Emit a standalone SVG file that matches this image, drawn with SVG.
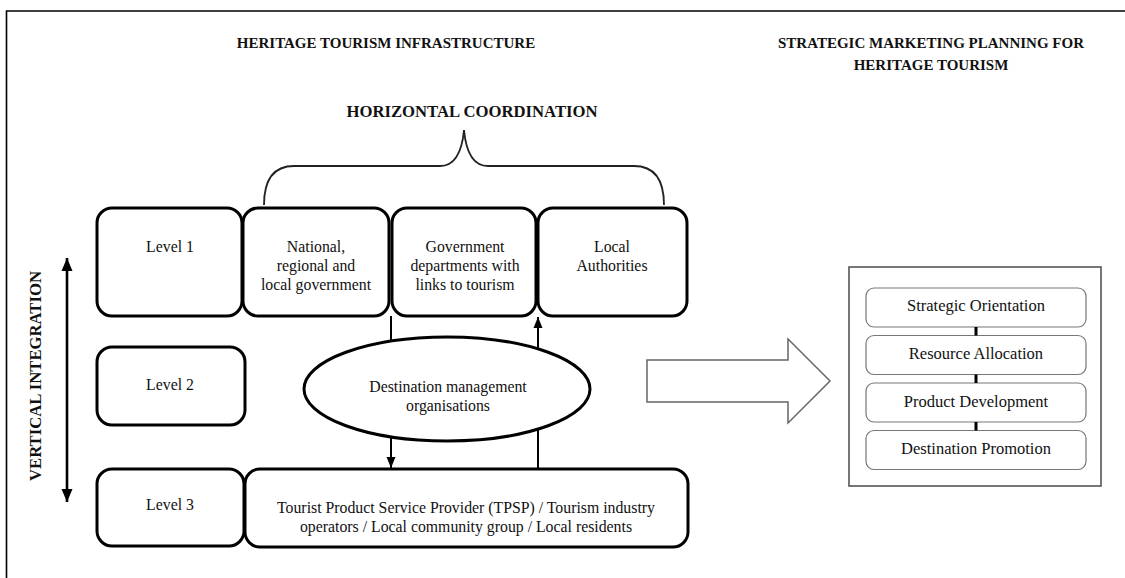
<svg xmlns="http://www.w3.org/2000/svg" width="1125" height="578" viewBox="0 0 1125 578">
<defs>
<style>
.t{font-family:"Liberation Serif","Times New Roman",serif;fill:#111;}
.r{font-size:15.8px;}
.rs{font-size:16.5px;}
.b{font-weight:bold;font-size:15px;}
.bb{font-weight:bold;font-size:16.7px;}
.box{fill:#fff;stroke:#000;stroke-width:3;}
.ibox{fill:#fff;stroke:#777;stroke-width:1.2;}
.ln{stroke:#000;stroke-width:2;fill:none;}
</style>
<marker id="ah" markerUnits="userSpaceOnUse" markerWidth="12" markerHeight="12" viewBox="0 0 12 12" refX="11" refY="6" orient="auto">
<path d="M0,1.5 L11,6 L0,10.5 Z" fill="#000"/>
</marker>
<marker id="ahb" markerUnits="userSpaceOnUse" markerWidth="14" markerHeight="14" viewBox="0 0 14 14" refX="13" refY="7" orient="auto-start-reverse">
<path d="M0,1.5 L13,7 L0,12.5 Z" fill="#000"/>
</marker>
</defs>
<rect width="1125" height="578" fill="#fff"/>
<path d="M6.5,578 V11 H1125" fill="none" stroke="#000" stroke-width="1.6"/>

<g id="titles">
<text class="t b" x="386" y="48" text-anchor="middle">HERITAGE TOURISM INFRASTRUCTURE</text>
<text class="t b" x="931" y="48" text-anchor="middle">STRATEGIC MARKETING PLANNING FOR</text>
<text class="t b" x="931" y="70" text-anchor="middle">HERITAGE TOURISM</text>
<text class="t bb" x="472" y="117" text-anchor="middle">HORIZONTAL COORDINATION</text>
<text class="t bb" transform="translate(41,376) rotate(-90)" text-anchor="middle">VERTICAL INTEGRATION</text>
</g>

<g id="brace">
<path d="M264,205 C264,182 272,166 294,166 H440 C455,166 462,152 464,130 C466,152 473,166 488,166 H634 C656,166 664,182 664,205" fill="none" stroke="#222" stroke-width="1.8"/>
</g>

<g id="level1"><rect class="box" x="97" y="208" width="145" height="108" rx="15"/><text class="t r" x="170" y="252" text-anchor="middle">Level 1</text></g>
<g id="national"><rect class="box" x="243" y="208" width="146" height="108" rx="15"/><text class="t r" x="316" y="252" text-anchor="middle">National,</text><text class="t r" x="316" y="271" text-anchor="middle">regional and</text><text class="t r" x="316" y="290" text-anchor="middle">local government</text></g>
<g id="govdept"><rect class="box" x="392" y="208" width="144" height="108" rx="15"/><text class="t r" x="465" y="252" text-anchor="middle">Government</text><text class="t r" x="465" y="271" text-anchor="middle">departments with</text><text class="t r" x="465" y="290" text-anchor="middle">links to tourism</text></g>
<g id="localauth"><rect class="box" x="538" y="208" width="149" height="108" rx="15"/><text class="t r" x="612" y="252" text-anchor="middle">Local</text><text class="t r" x="612" y="271" text-anchor="middle">Authorities</text></g>
<g id="level2"><rect class="box" x="97" y="347" width="148" height="78" rx="15"/><text class="t r" x="170" y="390" text-anchor="middle">Level 2</text></g>
<g id="dmo"><ellipse cx="447" cy="389" rx="143" ry="52" fill="#fff" stroke="#000" stroke-width="3"/><text class="t r" x="448" y="392" text-anchor="middle">Destination management</text><text class="t r" x="448" y="411" text-anchor="middle">organisations</text></g>
<g id="level3"><rect class="box" x="97" y="469" width="147" height="77" rx="15"/><text class="t r" x="170" y="510" text-anchor="middle">Level 3</text></g>
<g id="tpsp"><rect class="box" x="245" y="469" width="443" height="78" rx="15"/><text class="t r" x="466" y="513" text-anchor="middle">Tourist Product Service Provider (TPSP) / Tourism industry</text><text class="t r" x="466" y="532" text-anchor="middle">operators / Local community group / Local residents</text></g>

<g id="bigarrow"><path d="M647,360 H788 V339 L830,381 L788,423 V402 H647 Z" fill="#fff" stroke="#666" stroke-width="1.5"/></g>

<g id="strategic-panel">
<rect x="849" y="267" width="252" height="219" fill="#fff" stroke="#555" stroke-width="1.6"/>
</g>
<g id="s-orient"><rect class="ibox" x="866" y="288" width="220" height="39" rx="8"/><text class="t rs" x="976" y="311" text-anchor="middle">Strategic Orientation</text></g>
<g id="s-resource"><rect class="ibox" x="866" y="335.5" width="220" height="39" rx="8"/><text class="t rs" x="976" y="359" text-anchor="middle">Resource Allocation</text></g>
<g id="s-product"><rect class="ibox" x="866" y="383" width="220" height="39" rx="8"/><text class="t rs" x="976" y="407" text-anchor="middle">Product Development</text></g>
<g id="s-promotion"><rect class="ibox" x="866" y="430.5" width="220" height="39" rx="8"/><text class="t rs" x="976" y="454" text-anchor="middle">Destination Promotion</text></g>

<g id="connectors">
<line class="ln" x1="391" y1="316" x2="391" y2="341"/>
<line class="ln" x1="538" y1="349" x2="538" y2="317" marker-end="url(#ah)"/>
<line class="ln" x1="391" y1="437" x2="391" y2="468" marker-end="url(#ah)"/>
<line class="ln" x1="538" y1="469" x2="538" y2="429"/>
<line x1="67" y1="258" x2="67" y2="502" stroke="#000" stroke-width="2.6" marker-start="url(#ahb)" marker-end="url(#ahb)"/>
<line x1="976" y1="327" x2="976" y2="335.5" stroke="#000" stroke-width="3"/>
<line x1="976" y1="374.5" x2="976" y2="383" stroke="#000" stroke-width="3"/>
<line x1="976" y1="422" x2="976" y2="430.5" stroke="#000" stroke-width="3"/>
</g>
</svg>
